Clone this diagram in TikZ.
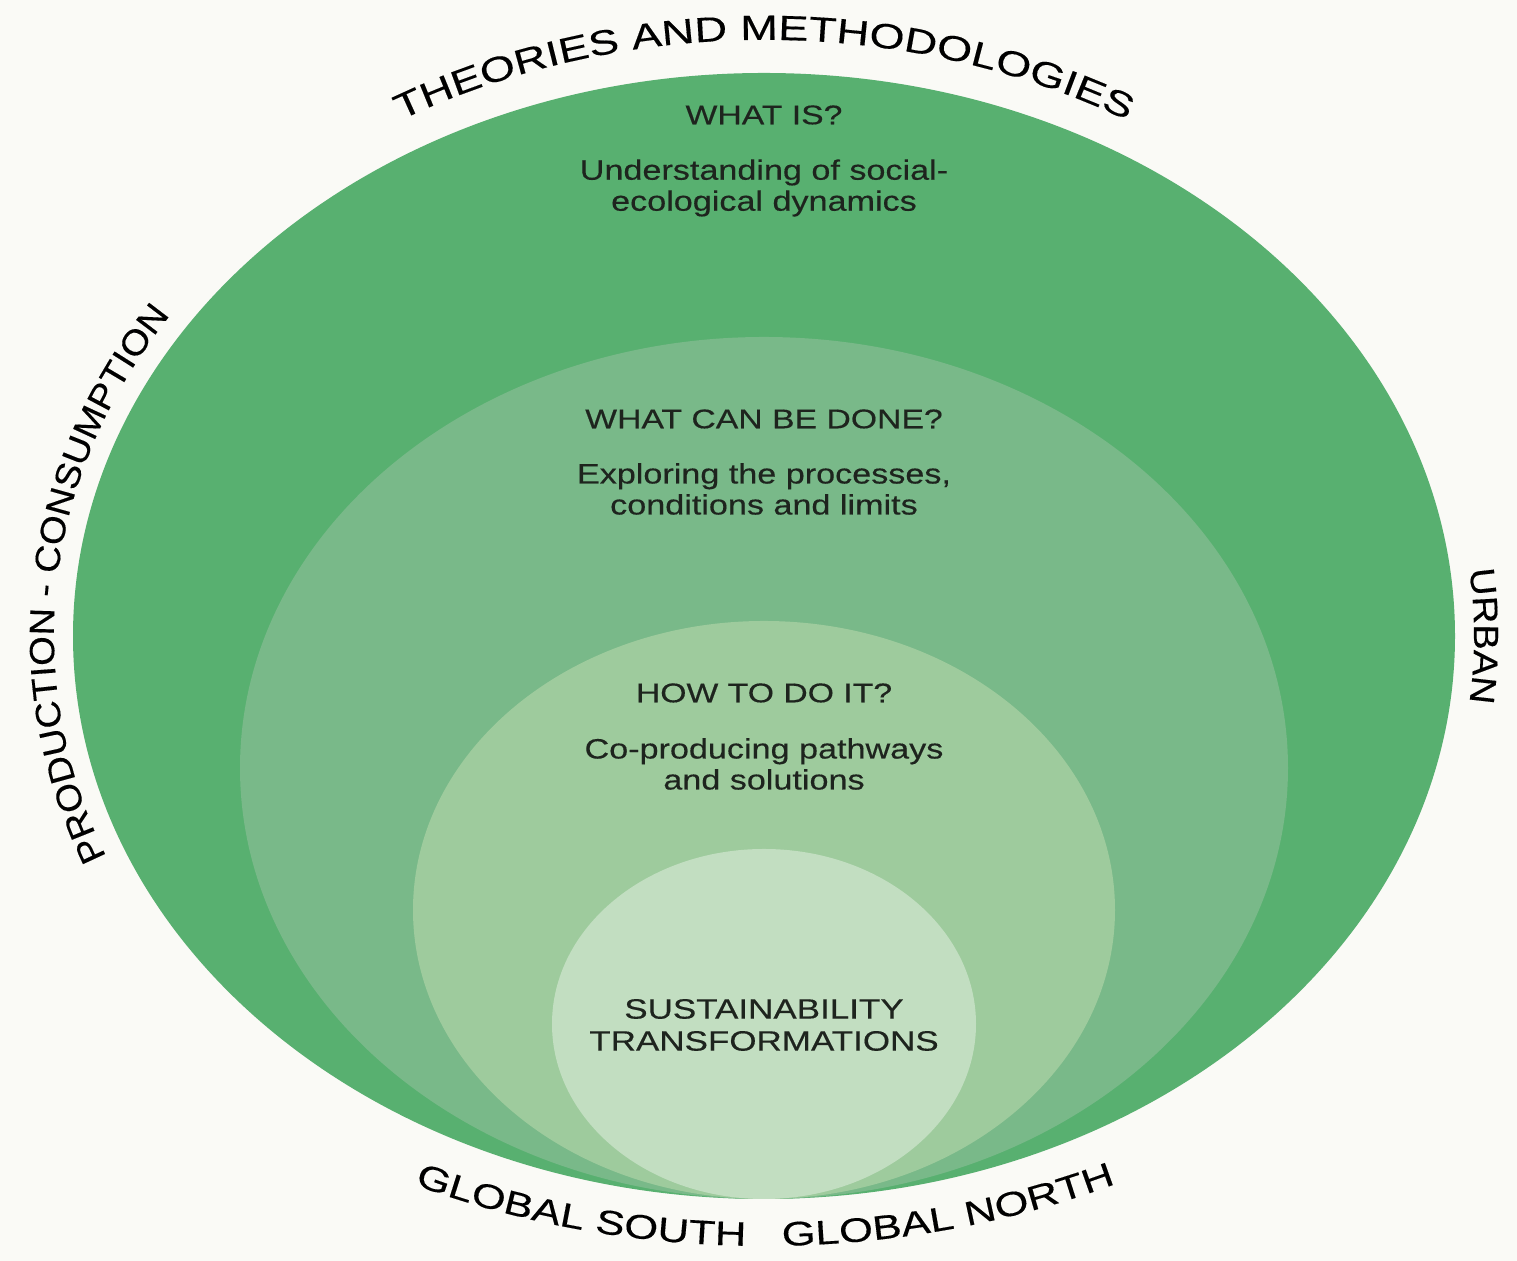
\documentclass[tikz,border=0pt]{standalone}
\usepackage{fontspec}
\setmainfont{Liberation Sans}
\newfontfamily\widefont[FakeStretch=1.22, FakeBold=0.35]{Liberation Sans}
\newfontfamily\headfont[FakeStretch=1.25, FakeBold=0.35]{Liberation Sans}
\newfontfamily\arcfont[FakeStretch=1.29, FakeBold=0.3]{Liberation Sans}
\newfontfamily\lowfont[FakeStretch=1.28, FakeBold=0.3]{Liberation Sans}
\newfontfamily\sidefont[FakeStretch=1.09, FakeBold=0.3]{Liberation Sans}
\usetikzlibrary{decorations.text}
\definecolor{ringone}{RGB}{88,176,112}
\definecolor{ringtwo}{RGB}{121,185,137}
\definecolor{ringthree}{RGB}{158,203,157}
\definecolor{ringfour}{RGB}{194,222,193}
\definecolor{inktext}{RGB}{30,36,30}
\definecolor{paper}{RGB}{250,250,246}

\begin{document}
\begin{tikzpicture}[x=0.5pt, y=0.5pt,
  heading/.style={text=inktext, font=\headfont\fontsize{13.5}{16}\selectfont, align=center},
  body/.style={text=inktext, font=\widefont\fontsize{14}{15.5}\selectfont, align=center},
  arclabel/.style={decorate, decoration={text along path, text align=center, text={#1}}}
]
  \fill[paper] (0,0) rectangle (1517,1261);
  \useasboundingbox (0,0) rectangle (1517,1261);

  % nested rings, all touching at the bottom
  \fill[ringone] (764,625) ellipse [x radius=691, y radius=563];
  \fill[ringtwo] (764,493) ellipse [x radius=524, y radius=431];
  \fill[ringthree] (764,351) ellipse [x radius=351, y radius=289];
  \fill[ringfour] (764,237) ellipse [x radius=212, y radius=175];

  \node[heading] (whatis) at (764,1146) {WHAT IS?};
  \node[body] (understand) at (764,1073) {Understanding of social-\\ecological dynamics};
  \node[heading] (whatcan) at (764,842) {WHAT CAN BE DONE?};
  \node[body] (explore) at (764,772) {Exploring the processes,\\conditions and limits};
  \node[heading] (howto) at (764,568) {HOW TO DO IT?};
  \node[body] (coprod) at (764,497) {Co-producing pathways\\and solutions};
  \node[body, font=\headfont\fontsize{14}{16}\selectfont] (sustain) at (764,236) {SUSTAINABILITY\\TRANSFORMATIONS};

  % labels round the outer ring
  \path[arclabel={|\arcfont\fontsize{17.5}{20}\selectfont|THEORIES AND METHODOLOGIES}]
    (764,625) ++(150:724 and 596) arc[start angle=150, end angle=30, x radius=724, y radius=596];
  \path[arclabel={|\sidefont\fontsize{17.5}{20}\selectfont|PRODUCTION - CONSUMPTION}]
    (764,625) ++(235:710 and 585) arc[start angle=235, end angle=115, x radius=710, y radius=585];
  \path[arclabel={|\sidefont\fontsize{17.5}{20}\selectfont|URBAN}]
    (764,625) ++(25:710 and 585) arc[start angle=25, end angle=-25, x radius=710, y radius=585];
  \path[decorate, decoration={text along path, text align=right,
      text={|\lowfont\fontsize{17}{20}\selectfont|GLOBAL SOUTH}}]
    (764,625) ++(205:800 and 610) arc[start angle=205, end angle=268.7, x radius=800, y radius=610];
  \path[decorate, decoration={text along path, text align=left,
      text={|\lowfont\fontsize{17}{20}\selectfont|GLOBAL NORTH}}]
    (764,625) ++(271.3:800 and 610) arc[start angle=271.3, end angle=335, x radius=800, y radius=610];
\end{tikzpicture}
\end{document}
